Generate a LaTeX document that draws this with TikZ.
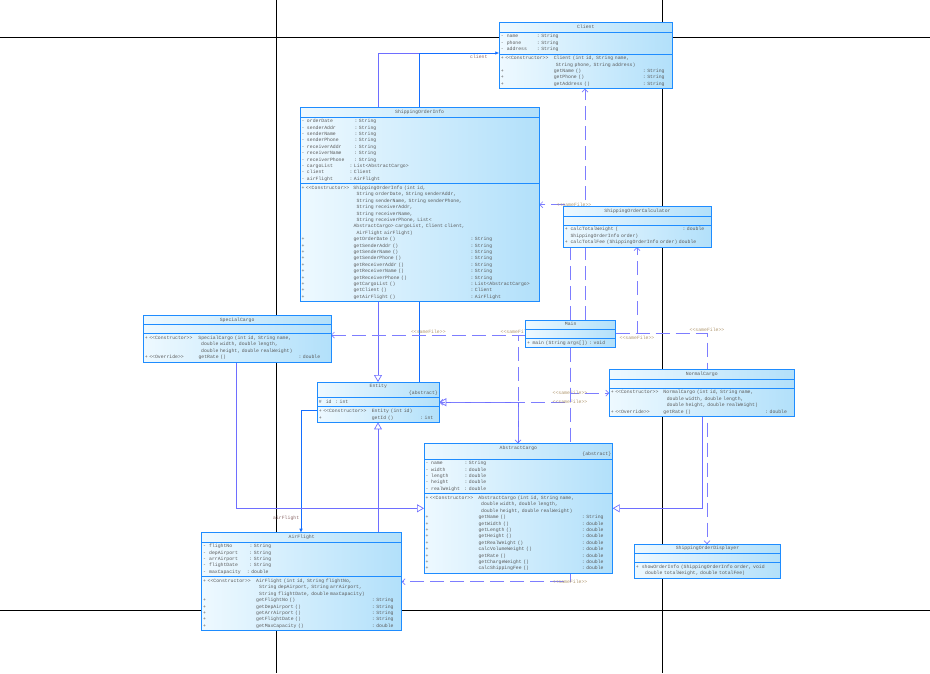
\documentclass[tikz,border=0pt]{standalone}
\usepackage{fontspec}
\setmonofont{Liberation Mono}
\usetikzlibrary{shapes.multipart,arrows.meta,backgrounds}

\definecolor{umlborder}{RGB}{30,140,255}
\definecolor{umlleft}{RGB}{238,249,255}
\definecolor{umlright}{RGB}{178,224,250}
\definecolor{umltext}{RGB}{90,90,90}
\definecolor{assocblue}{RGB}{20,110,255}
\definecolor{genviolet}{RGB}{110,110,255}
\definecolor{depviolet}{RGB}{125,125,255}
\definecolor{stereo}{RGB}{175,150,110}
\definecolor{rolelbl}{RGB}{140,105,105}

\newcommand{\umlfont}{\ttfamily\fontsize{4.8}{6.4}\selectfont}
% member row: symbol, name column, colon column, name, type
\newcommand{\mrow}[5]{\strut\makebox[#2pt][l]{#1}\makebox[\dimexpr#3pt-#2pt\relax][l]{#4}:~#5}
\newcommand{\mlead}[2]{\strut\makebox[#1pt][l]{#2}}
\newcommand{\mcont}[1]{\strut\hspace*{#1pt}}

\begin{document}
\begin{tikzpicture}[x=1pt, y=-1pt]
        \tikzset{
            umlclass/.style={rectangle split, rectangle split parts=3, draw=umlborder, line width=0.8pt, left color=umlleft, right color=umlright, font=\umlfont, text=umltext, align=left, inner xsep=1.5pt, inner ysep=1pt, outer sep=0pt, anchor=north west},
            assoc/.style={draw=assocblue, line width=0.7pt, -{Latex[length=4pt,width=3.5pt]}},
            inherit/.style={draw=genviolet, line width=0.7pt, -{Triangle[open,length=7pt,width=8pt]}},
            dep/.style={draw=depviolet, line width=0.7pt, dash pattern=on 14pt off 6pt, -{Straight Barb[length=3pt,width=6pt]}},
            link/.style={draw=genviolet, line width=0.7pt},
            pageline/.style={draw=black, line width=1pt},
            rolelabel/.style={font=\umlfont, text=rolelbl, inner sep=0.5pt},
            samefile/.style={font=\umlfont, text=stereo, inner sep=0.5pt}
        }
        \useasboundingbox (0,0) rectangle (930,673);

        % Classes
        \node[umlclass, text width=170pt] (client) at (499.3,22.7) {\centering\strut Client\par
            \nodepart{two}\mrow{-}{6}{36}{name}{String}\\
            \mrow{-}{6}{36}{phone}{String}\\
            \mrow{-}{6}{36}{address}{String}
            \nodepart{three}\mlead{53}{+ <<Constructor>>}Client (int id, String name,\\
            \mcont{55}String phone, String address)\\
            \mrow{+}{53}{142}{getName ()}{String}\\
            \mrow{+}{53}{142}{getPhone ()}{String}\\
            \mrow{+}{53}{142}{getAddress ()}{String}};

        \node[umlclass, text width=236.3pt] (orderinfo) at (300,107.7) {\centering\strut ShippingOrderInfo\par
            \nodepart{two}\mrow{-}{5.5}{53}{orderDate}{String}\\
            \mrow{-}{5.5}{53}{senderAddr}{String}\\
            \mrow{-}{5.5}{53}{senderName}{String}\\
            \mrow{-}{5.5}{53}{senderPhone}{String}\\
            \mrow{-}{5.5}{53}{receiverAddr}{String}\\
            \mrow{-}{5.5}{53}{receiverName}{String}\\
            \mrow{-}{5.5}{53}{receiverPhone}{String}\\
            \mrow{-}{5.5}{48}{cargoList}{List<AbstractCargo>}\\
            \mrow{-}{5.5}{48}{client}{Client}\\
            \mrow{-}{5.5}{48}{airFlight}{AirFlight}
            \nodepart{three}\mlead{52}{+ <<Constructor>>}ShippingOrderInfo (int id,\\
            \mcont{55}String orderDate, String senderAddr,\\
            \mcont{55}String senderName, String senderPhone,\\
            \mcont{55}String receiverAddr,\\
            \mcont{55}String receiverName,\\
            \mcont{55}String receiverPhone, List<\\
            \mcont{52}AbstractCargo> cargoList, Client client,\\
            \mcont{55}AirFlight airFlight)\\
            \mrow{+}{52}{169}{getOrderDate ()}{String}\\
            \mrow{+}{52}{169}{getSenderAddr ()}{String}\\
            \mrow{+}{52}{169}{getSenderName ()}{String}\\
            \mrow{+}{52}{169}{getSenderPhone ()}{String}\\
            \mrow{+}{52}{169}{getReceiverAddr ()}{String}\\
            \mrow{+}{52}{169}{getReceiverName ()}{String}\\
            \mrow{+}{52}{169}{getReceiverPhone ()}{String}\\
            \mrow{+}{52}{169}{getCargoList ()}{List<AbstractCargo>}\\
            \mrow{+}{52}{169}{getClient ()}{Client}\\
            \mrow{+}{52}{169}{getAirFlight ()}{AirFlight}};

        \node[umlclass, text width=145.4pt] (calculator) at (563.3,206.7) {\centering\strut ShippingOrderCalculator\par
            \nodepart{two}\strut
            \nodepart{three}\mrow{+}{5.7}{117.7}{calcTotalWeight (}{double}\\
            \mcont{5.7}ShippingOrderInfo order)\\
            \mlead{5.7}{+}calcTotalFee (ShippingOrderInfo order) double};

        \node[umlclass, text width=184.7pt] (special) at (143.3,315.3) {\centering\strut SpecialCargo\par
            \nodepart{two}\strut
            \nodepart{three}\mlead{53.7}{+ <<Constructor>>}SpecialCargo (int id, String name,\\
            \mcont{56.4}double width, double length,\\
            \mcont{56.4}double height, double realWeight)\\
            \mrow{+ <<Override>>}{53.7}{153.7}{getRate ()}{double}};

        \node[umlclass, text width=87pt] (mainc) at (525.7,320) {\centering\strut Main\par
            \nodepart{two}\strut
            \nodepart{three}\mlead{5.3}{+}main (String args[]) :~void};

        \node[umlclass, text width=182pt] (normal) at (609.3,369.7) {\centering\strut NormalCargo\par
            \nodepart{two}\strut
            \nodepart{three}\mlead{52.7}{+ <<Constructor>>}NormalCargo (int id, String name,\\
            \mcont{56}double width, double length,\\
            \mcont{56}double height, double realWeight)\\
            \mrow{+ <<Override>>}{52.7}{154.4}{getRate ()}{double}};

        \node[umlclass, text width=119pt] (entity) at (317.3,382) {\centering\strut Entity\\\strut\hfill\{abstract\}\par
            \nodepart{two}\mrow{\#}{7}{16.4}{id}{int}
            \nodepart{three}\mlead{53}{+ <<Constructor>>}Entity (int id)\\
            \mrow{+}{53}{101.4}{getId ()}{int}};

        \node[umlclass, text width=185.7pt] (abscargo) at (424,443.3) {\centering\strut AbstractCargo\\\strut\hfill\{abstract\}\par
            \nodepart{two}\mrow{-}{5.7}{39}{name}{String}\\
            \mrow{-}{5.7}{39}{width}{double}\\
            \mrow{-}{5.7}{39}{length}{double}\\
            \mrow{-}{5.7}{39}{height}{double}\\
            \mrow{-}{5.7}{39}{realWeight}{double}
            \nodepart{three}\mlead{53}{+ <<Constructor>>}AbstractCargo (int id, String name,\\
            \mcont{55.7}double width, double length,\\
            \mcont{55.7}double height, double realWeight)\\
            \mrow{+}{53}{156.3}{getName ()}{String}\\
            \mrow{+}{53}{156.3}{getWidth ()}{double}\\
            \mrow{+}{53}{156.3}{getLength ()}{double}\\
            \mrow{+}{53}{156.3}{getHeight ()}{double}\\
            \mrow{+}{53}{156.3}{getRealWeight ()}{double}\\
            \mrow{+}{53}{156.3}{calcVolumeWeight ()}{double}\\
            \mrow{+}{53}{156.3}{getRate ()}{double}\\
            \mrow{+}{53}{156.3}{getChargeWeight ()}{double}\\
            \mrow{+}{53}{156.3}{calcShippingFee ()}{double}};

        \node[umlclass, text width=197pt] (airflight) at (201.7,532.7) {\centering\strut AirFlight\par
            \nodepart{two}\mrow{-}{6}{46.3}{flightNo}{String}\\
            \mrow{-}{6}{46.3}{depAirport}{String}\\
            \mrow{-}{6}{46.3}{arrAirport}{String}\\
            \mrow{-}{6}{46.3}{flightDate}{String}\\
            \mrow{-}{6}{43.6}{maxCapacity}{double}
            \nodepart{three}\mlead{53}{+ <<Constructor>>}AirFlight (int id, String flightNo,\\
            \mcont{56}String depAirport, String arrAirport,\\
            \mcont{56}String flightDate, double maxCapacity)\\
            \mrow{+}{53}{168.6}{getFlightNo ()}{String}\\
            \mrow{+}{53}{168.6}{getDepAirport ()}{String}\\
            \mrow{+}{53}{168.6}{getArrAirport ()}{String}\\
            \mrow{+}{53}{168.6}{getFlightDate ()}{String}\\
            \mrow{+}{53}{168.6}{getMaxCapacity ()}{double}};

        \node[umlclass, text width=143.4pt] (displayer) at (634.3,544) {\centering\strut ShippingOrderDisplayer\par
            \nodepart{two}\strut
            \nodepart{three}\mlead{6}{+}showOrderInfo (ShippingOrderInfo order, void\\
            \mcont{9.4}double totalWeight, double totalFee)};

        % Bend points
        \coordinate (clientbend) at (419,53);
        \coordinate (flightbendA) at (419,410);
        \coordinate (flightbendB) at (301,410);

        \begin{pgfonlayer}{background}
        % Page breaks
        \draw[pageline] (276,0) -- (276,673);
        \draw[pageline] (662,0) -- (662,673);
        \draw[pageline] (0,37) -- (930,37);
        \draw[pageline] (0,610) -- (930,610);

        % Associations
        \draw[link] (orderinfo.north -| 378,0) |- (clientbend);
        \draw[assoc] (orderinfo.north -| clientbend) -- (clientbend) -- (client.west |- clientbend) node[rolelabel, anchor=north east, xshift=-11pt, yshift=-1pt] {client};
        \draw[assoc] (orderinfo.south -| flightbendA) -- (flightbendA) -- (flightbendB) -- (airflight.north -| flightbendB) node[rolelabel, anchor=east, xshift=-1pt, yshift=14pt] {airFlight};

        % Generalizations
        \draw[inherit] (orderinfo.south -| 378,0) -- (entity.north -| 378,0);
        \draw[inherit] (airflight.north -| 378,0) -- (entity.south -| 378,0);
        \draw[inherit] (abscargo.north -| 518,0) |- (entity.east);
        \draw[inherit] (special.south -| 236,0) |- (abscargo.west);
        \draw[inherit] (normal.south -| 702,0) |- (abscargo.east);

        % Dependencies from Main
        \draw[dep] (mainc.west |- 0,335) -- (special.east |- 0,335) node[samefile, midway, above=1pt] {<<sameFile>>};
        \draw[dep] (mainc.west |- 0,335) -| (abscargo.north -| 518,0) node[samefile, pos=0.5, above=1pt] {<<sameFile>>};
        \draw[dep] (mainc.south -| 570,0) |- (entity.east) node[samefile, pos=0.5] {<<sameFile>>};
        \draw[dep] (mainc.south -| 570,0) |- (normal.west) node[samefile, pos=0.5] {<<sameFile>>};
        \draw[dep] (mainc.south -| 570,0) |- (airflight.east) node[samefile, pos=0.5] {<<sameFile>>};
        \draw[dep] (mainc.north -| 570,0) |- (orderinfo.east) node[samefile, pos=0.5, xshift=4pt] {<<sameFile>>};
        \draw[dep] (mainc.north -| 585,0) -- (client.south -| 585,0);
        \draw[dep] (mainc.east) -| (calculator.south -| 637,0) node[samefile, pos=0.5, below=1pt] {<<sameFile>>};
        \draw[dep] (mainc.east) -| (displayer.north -| 707,0) node[samefile, pos=0.5, above=1pt] {<<sameFile>>};
        \end{pgfonlayer}

    \end{tikzpicture}
\end{document}
